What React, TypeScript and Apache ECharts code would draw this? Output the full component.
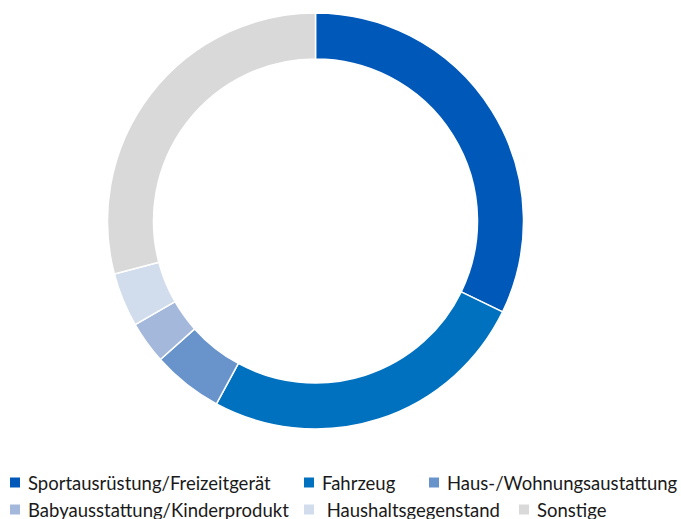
import React, { useEffect, useRef } from "react";
import * as echarts from "echarts";

const categories = [
  "Sportausrüstung/Freizeitgerät",
  "Fahrzeug",
  "Haus-/Wohnungsaustattung",
  "Babyausstattung/Kinderprodukt",
  " Haushaltsgegenstand",
  "Sonstige",
];
const values = [32.2, 25.7, 5.5, 3.3, 4.2, 29.1];
const colors = ["#0058B9", "#0071BF", "#6893CB", "#A4B8DB", "#D1DCEC", "#D9D9D9"];
const legendPos = [
  [8, 473],
  [302, 473],
  [427, 473],
  [8, 500],
  [302, 500],
  [517, 500],
];

export default function App() {
  const ref = useRef<HTMLDivElement>(null);
  useEffect(() => {
    const chart = echarts.init(ref.current!, null, { renderer: "svg" });
    const legends = categories.map((c, i) => ({
      data: [c],
      left: legendPos[i][0],
      top: legendPos[i][1],
      padding: 0,
      itemWidth: 12,
      itemHeight: 12,
      itemGap: 0,
      icon: "rect",
      selectedMode: false,
      textStyle: {
        fontSize: 18.5,
        lineHeight: 12,
        height: 12,
        color: "#1a1a1a",
        fontFamily: "Lato",
        padding: [0, 0, 0, 2],
      },
    }));
    chart.setOption({
      animation: false,
      color: colors,
      legend: legends,
      series: [
        {
          type: "pie",
          center: [315.5, 221],
          radius: [162, 208],
          startAngle: 90,
          clockwise: true,
          label: { show: false },
          labelLine: { show: false },
          emphasis: { disabled: true },
          itemStyle: { borderColor: "#ffffff", borderWidth: 1.5 },
          data: categories.map((c, i) => ({ name: c, value: values[i] })),
        },
      ],
    });
    return () => chart.dispose();
  }, []);
  return (
    <div
      ref={ref}
      style={{ position: "absolute", left: 0, top: 0, width: 681, height: 519, background: "#fff" }}
    />
  );
}
